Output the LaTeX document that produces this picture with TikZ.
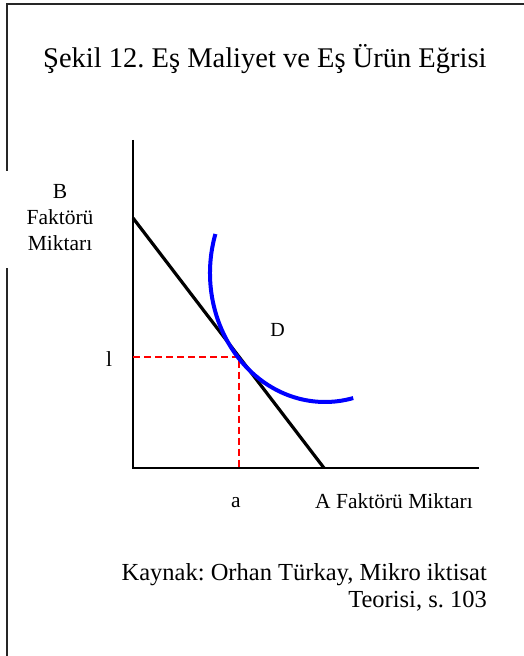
\documentclass[tikz,border=0pt]{standalone}
\usepackage{fontspec}
\setmainfont{Liberation Serif}
\usetikzlibrary{calc}
\begin{document}
\frenchspacing
\begin{tikzpicture}[x=1pt,y=1pt,
  frameline/.style={line width=2pt,draw=black!85},
  axisline/.style={line width=1.4pt,black},
  budget/.style={line width=3.2pt,black},
  isoquant/.style={line width=4pt,draw={rgb,255:red,0;green,0;blue,255}},
  guide/.style={line width=1.8pt,draw={rgb,255:red,255;green,0;blue,0},dash pattern=on 7pt off 4pt},
  lbl/.style={inner sep=0pt,font=\fontsize{21.5}{26}\selectfont},
]
\useasboundingbox (0,0) rectangle (524,656);
% frame
\coordinate (f1) at (7,0);
\coordinate (f2) at (7,388);
\coordinate (f3) at (7,485);
\coordinate (f4) at (7,652);
\coordinate (f5) at (524,652);
\draw[frameline] (f1) -- (f2);
\draw[frameline] (f3) -- (f4) -- (f5);
% title
\node[inner sep=0pt,anchor=base west,font=\fontsize{28.5}{34}\selectfont] (title) at (43,588) {Şekil 12. Eş Maliyet ve Eş Ürün Eğrisi};
% axes
\coordinate (O) at (133,188);
\coordinate (ytop) at (133,516);
\coordinate (xend) at (479,188);
\draw[axisline] (ytop) -- (O) -- (xend);
% budget line
\coordinate (b1) at (133,438);
\coordinate (b2) at (324,188);
\draw[budget] (b1) -- (b2);
% tangent point
\coordinate (T) at ($(b1)!0.555!(b2)$);
\draw[guide] (O |- T) -- (T) -- (T |- O);
% isoquant
\coordinate (q0) at (215.4,422);
\draw[isoquant] (q0) arc[start angle=162.4,end angle=284.2,x radius=115,y radius=129];
% labels
\node[lbl,align=center,anchor=base] (ylab) at (60,405) {B\\Faktörü\\Miktarı};
\node[lbl,anchor=base] (bl) at (109,289) {l};
\node[lbl,anchor=base,font=\fontsize{20}{24}\selectfont] (D) at (277.5,319) {D};
\node[lbl,anchor=base] (al) at (236,148) {a};
\node[lbl,anchor=base west] (xlab) at (315,147) {A Faktörü Miktarı};
\node[inner sep=0pt,anchor=base east,align=right,font=\fontsize{24.5}{28}\selectfont] (src) at (487,48) {Kaynak: Orhan Türkay, Mikro iktisat\\Teorisi, s. 103};
\end{tikzpicture}
\end{document}
